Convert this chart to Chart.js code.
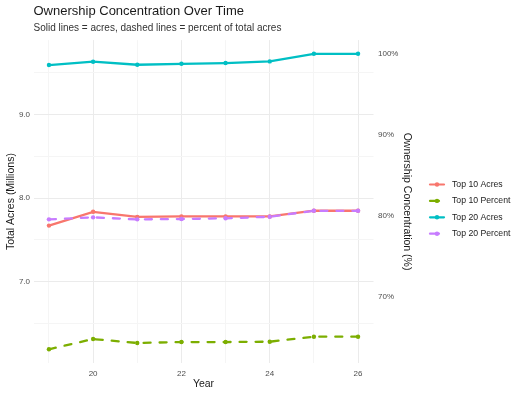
<!DOCTYPE html>
<html>
<head>
<meta charset="utf-8">
<script src="https://cdn.jsdelivr.net/npm/chart.js@4.4.1/dist/chart.umd.min.js"></script>
<style>
    html, body { margin: 0; padding: 0; background: #fff; }
</style>
</head>
<body>
<canvas id="ownershipChart" width="521" height="395"></canvas>
<script>
// values
var years = [19, 20, 21, 22, 23, 24, 25, 26];
var top10Acres = [7.67, 7.835, 7.775, 7.78, 7.78, 7.78, 7.848, 7.848];
var top10Percent = [63.54, 64.81, 64.32, 64.44, 64.44, 64.48, 65.10, 65.10];
var top20Acres = [9.593, 9.633, 9.597, 9.608, 9.617, 9.637, 9.728, 9.728];
var top20Percent = [79.59, 79.84, 79.59, 79.63, 79.72, 79.91, 80.65, 80.65];

var seriesNames = ['Top 10 Acres', 'Top 10 Percent', 'Top 20 Acres', 'Top 20 Percent'];
var yearTicks = [19, 20, 21, 22, 23, 24, 25, 26];
var acreTicks = [6.5, 7, 7.5, 8, 8.5, 9, 9.5];
var percentTicks = [70, 80, 90, 100];

var colors = ['#F8766D', '#7CAE00', '#00BFC4', '#C77CFF'];
var majorGrid = '#ebebeb';
var minorGrid = '#f5f5f5';
var dash = [7, 9];

Chart.defaults.font.family = '"Liberation Sans", Arial, sans-serif';

function toPoints(vals) {
    return years.map(function(y, i) { return { x: y, y: vals[i] }; });
}

function makeDataset(i, vals, axis, dashed) {
    return {
        label: seriesNames[i],
        data: toPoints(vals),
        yAxisID: axis,
        borderColor: colors[i],
        backgroundColor: colors[i],
        borderWidth: 2.3,
        borderDash: dashed ? dash : [],
        borderCapStyle: 'round',
        pointRadius: 2.2,
        pointBorderWidth: 0,
        pointBackgroundColor: colors[i],
        tension: 0,
        order: 4 - i
    };
}

// ggplot style legend on the right
var sideLegend = {
    id: 'sideLegend',
    afterDraw: function(chart) {
        var ctx = chart.ctx;
        ctx.save();
        chart.data.datasets.forEach(function(ds, i) {
            var y = 184.5 + i * 16.4;
            ctx.strokeStyle = ds.borderColor;
            ctx.lineWidth = 2.2;
            ctx.lineCap = 'round';
            ctx.setLineDash(ds.borderDash.length ? [9, 6] : []);
            ctx.beginPath();
            ctx.moveTo(430, y);
            ctx.lineTo(444, y);
            ctx.stroke();
            ctx.setLineDash([]);
            ctx.fillStyle = ds.borderColor;
            ctx.beginPath();
            ctx.arc(437, y, 2.2, 0, Math.PI * 2);
            ctx.fill();
            ctx.fillStyle = '#1a1a1a';
            ctx.font = '8.7px "Liberation Sans", Arial, sans-serif';
            ctx.textBaseline = 'middle';
            ctx.fillText(ds.label, 452, y);
        });
        ctx.restore();
    }
};

var ctx = document.getElementById('ownershipChart').getContext('2d');
var chart = new Chart(ctx, {
    type: 'line',
    data: {
        datasets: [
            makeDataset(0, top10Acres, 'y', false),
            makeDataset(1, top10Percent, 'y1', true),
            makeDataset(2, top20Acres, 'y', false),
            makeDataset(3, top20Percent, 'y1', true)
        ]
    },
    options: {
        responsive: false,
        animation: false,
        layout: { padding: { top: 0, left: 0, right: 107.5, bottom: 0 } },
        plugins: {
            legend: { display: false },
            tooltip: { enabled: false },
            title: {
                display: true,
                text: 'Ownership Concentration Over Time',
                align: 'start',
                fullSize: false,
                color: '#1a1a1a',
                font: { size: 13, weight: 'normal' },
                padding: { top: 4, bottom: 0 }
            },
            subtitle: {
                display: true,
                text: 'Solid lines = acres, dashed lines = percent of total acres',
                align: 'start',
                fullSize: false,
                color: '#333333',
                font: { size: 10 },
                padding: { top: 2.5, bottom: 6 }
            }
        },
        scales: {
            x: {
                type: 'linear',
                min: 18.65,
                max: 26.35,
                afterBuildTicks: function(s) {
                    s.ticks = yearTicks.map(function(v) { return { value: v }; });
                },
                afterFit: function(s) { s.height = 32; },
                ticks: {
                    autoSkip: false,
                    maxRotation: 0,
                    padding: 5.5,
                    color: '#4d4d4d',
                    font: { size: 8 },
                    callback: function(v) { return v % 2 === 0 ? String(v) : ''; }
                },
                grid: {
                    drawTicks: false,
                    color: function(c) { return c.tick && c.tick.value % 2 === 0 ? majorGrid : minorGrid; }
                },
                border: { display: false },
                title: {
                    display: true,
                    text: 'Year',
                    color: '#1a1a1a',
                    font: { size: 10.5 },
                    padding: { top: 5, bottom: 5 }
                }
            },
            y: {
                type: 'linear',
                position: 'left',
                min: 6.024,
                max: 9.892,
                afterBuildTicks: function(s) {
                    s.ticks = acreTicks.map(function(v) { return { value: v }; });
                },
                afterFit: function(s) { s.width = 33.5; },
                ticks: {
                    padding: 3.5,
                    color: '#4d4d4d',
                    font: { size: 8 },
                    callback: function(v) { return Number.isInteger(v) ? v.toFixed(1) : ''; }
                },
                grid: {
                    drawTicks: false,
                    color: function(c) { return c.tick && Number.isInteger(c.tick.value) ? majorGrid : minorGrid; }
                },
                border: { display: false },
                title: {
                    display: true,
                    text: 'Total Acres (Millions)',
                    color: '#1a1a1a',
                    font: { size: 10.5 },
                    padding: { top: 4.5, bottom: 0 }
                }
            },
            y1: {
                type: 'linear',
                position: 'right',
                min: 61.85,
                max: 101.73,
                afterBuildTicks: function(s) {
                    s.ticks = percentTicks.map(function(v) { return { value: v }; });
                },
                afterFit: function(s) { s.width = 40; },
                ticks: {
                    padding: 4.5,
                    color: '#4d4d4d',
                    font: { size: 8 },
                    callback: function(v) { return v + '%'; }
                },
                grid: { display: false, drawTicks: false },
                border: { display: false },
                title: {
                    display: true,
                    text: 'Ownership Concentration (%)',
                    color: '#1a1a1a',
                    font: { size: 10.5 },
                    padding: { top: 0, bottom: 0 }
                }
            }
        }
    },
    plugins: [sideLegend]
});
</script>
</body>
</html>
